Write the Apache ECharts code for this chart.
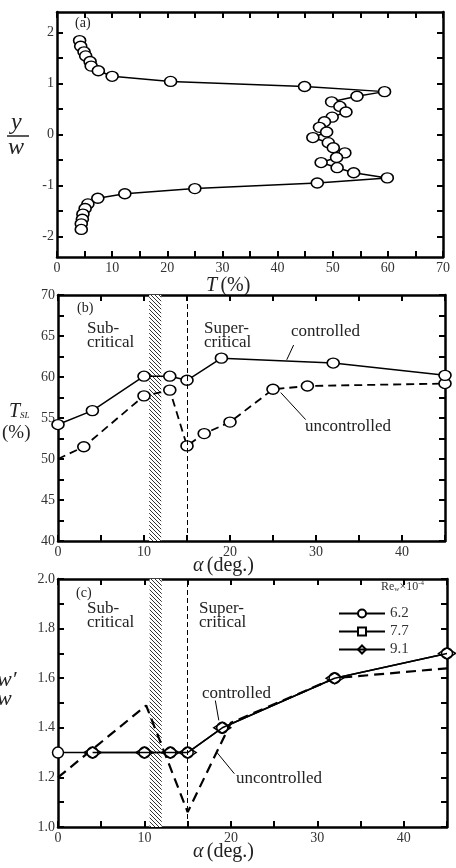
<!DOCTYPE html>
<html>
<head>
<meta charset="utf-8">
<script src="https://cdn.jsdelivr.net/npm/echarts@6/dist/echarts.min.js"></script>
<style>
  html, body { margin: 0; padding: 0; background: #fff; }
  #chart { width: 456px; height: 868px; }
</style>
</head>
<body>
<div id="chart"></div>
<script>
// (a) transmittance profile across the wake
const tProfile = [4.1, 4.3, 4.9, 5.2, 6.0, 6.2, 7.5, 10.0, 20.6, 44.9, 59.4, 54.4, 49.8, 51.3, 52.4, 49.9, 48.5, 47.6,
  48.9, 46.4, 49.2, 50.1, 52.2, 50.7, 47.9, 50.8, 53.8, 59.9, 47.2, 25.0, 12.3, 7.4, 5.6, 5.1, 4.7, 4.6, 4.4, 4.4];
const yProfile = [1.84, 1.73, 1.62, 1.54, 1.43, 1.34, 1.25, 1.14, 1.04, 0.94, 0.84, 0.75, 0.64, 0.55, 0.44, 0.34, 0.25, 0.14,
  0.05, -0.06, -0.16, -0.26, -0.36, -0.45, -0.55, -0.65, -0.75, -0.85, -0.95, -1.06, -1.16, -1.25, -1.36, -1.45, -1.56, -1.66, -1.75, -1.86];

// (b) T_SL vs alpha
const alphaCtrlB = [0, 4, 10, 13, 15, 19, 32, 45];
const tslCtrl = [54.2, 55.9, 60.1, 60.1, 59.6, 62.3, 61.7, 60.2];
const alphaUncB = [0, 3, 10, 13, 15, 17, 20, 25, 29, 45];
const tslUnc = [50.0, 51.5, 57.7, 58.4, 51.6, 53.1, 54.5, 58.5, 58.9, 59.2];

// (c) w'/w vs alpha
const alphaCircle = [0, 4, 10, 13, 15, 19, 32, 45];
const wCircle = [1.3, 1.3, 1.3, 1.3, 1.3, 1.4, 1.6, 1.7];
const alphaDiamond = [4, 10, 13, 15, 19, 32, 45];
const wDiamond = [1.3, 1.3, 1.3, 1.3, 1.4, 1.6, 1.7];
const alphaSquare = [];
const wSquare = [];
const alphaUncC = [0, 10.2, 15, 20, 32, 45];
const wUnc = [1.2, 1.49, 1.06, 1.42, 1.6, 1.64];
const reLegend = ['6.2', '7.7', '9.1'];

// ticks
const tTicks = [0, 5, 10, 15, 20, 25, 30, 35, 40, 45, 50, 55, 60, 65, 70];
const tLabels = [0, 10, 20, 30, 40, 50, 60, 70];
const yTicksA = [-2, -1.5, -1, -0.5, 0, 0.5, 1, 1.5, 2];
const yLabelsA = [-2, -1, 0, 1, 2];
const alphaTicks = [0, 5, 10, 15, 20, 25, 30, 35, 40, 45];
const alphaLabels = [0, 10, 20, 30, 40];
const tslTicks = [40, 42.5, 45, 47.5, 50, 52.5, 55, 57.5, 60, 62.5, 65, 67.5, 70];
const tslLabels = [40, 45, 50, 55, 60, 65, 70];
const wTicks = [1.0, 1.1, 1.2, 1.3, 1.4, 1.5, 1.6, 1.7, 1.8, 1.9, 2.0];
const wLabels = [1.0, 1.2, 1.4, 1.6, 1.8, 2.0];

const serif = 'Liberation Serif';
const zip = (xs, ys) => xs.map((x, i) => [x, ys[i]]);

// hatch pattern for the critical band
function hatch() {
  const c = document.createElement('canvas');
  c.width = 4; c.height = 4;
  const g = c.getContext('2d');
  g.fillStyle = '#fff';
  g.fillRect(0, 0, 4, 4);
  g.strokeStyle = '#333';
  g.lineWidth = 1;
  g.beginPath();
  g.moveTo(-1, -1); g.lineTo(5, 5);
  g.moveTo(-1, 3); g.lineTo(1, 5);
  g.moveTo(3, -1); g.lineTo(5, 1);
  g.stroke();
  return c;
}
const hatchImg = hatch();

function axis(grid, pos, min, max, ticks, labels, fmt) {
  return {
    type: 'value', gridIndex: grid, position: pos, min: min, max: max,
    axisLine: { show: true, onZero: false, lineStyle: { color: '#000', width: 2.5 } },
    axisTick: { show: true, inside: true, length: 6, customValues: ticks, lineStyle: { color: '#000', width: 2 } },
    axisLabel: {
      show: pos === 'bottom' || pos === 'left', customValues: labels,
      color: '#333', fontFamily: serif, fontSize: 14, margin: pos === 'left' ? 3 : 4,
      formatter: fmt || (v => String(v))
    },
    splitLine: { show: false }
  };
}

const grids = [
  { left: 57, top: 12, width: 386, height: 245 },
  { left: 58, top: 295, width: 387, height: 246 },
  { left: 58, top: 579, width: 389, height: 248 }
];

const xAxes = [
  axis(0, 'bottom', 0, 70, tTicks, tLabels),
  axis(0, 'top', 0, 70, tTicks, tLabels),
  axis(1, 'bottom', 0, 45, alphaTicks, alphaLabels),
  axis(1, 'top', 0, 45, alphaTicks, alphaLabels),
  axis(2, 'bottom', 0, 45, alphaTicks, alphaLabels),
  axis(2, 'top', 0, 45, alphaTicks, alphaLabels)
];
const yAxes = [
  axis(0, 'left', -2.4, 2.4, yTicksA, yLabelsA),
  axis(0, 'right', -2.4, 2.4, yTicksA, yLabelsA),
  axis(1, 'left', 40, 70, tslTicks, tslLabels),
  axis(1, 'right', 40, 70, tslTicks, tslLabels),
  axis(2, 'left', 1.0, 2.0, wTicks, wLabels, v => v.toFixed(1)),
  axis(2, 'right', 1.0, 2.0, wTicks, wLabels, v => v.toFixed(1))
];

const markerStyle = { color: '#fff', borderColor: '#000', borderWidth: 1.5 };
const solid = { color: '#000', width: 1.5, type: 'solid' };
const dashedB = { color: '#000', width: 1.8, type: [8, 5] };
const dashedC = { color: '#000', width: 2.2, type: [10, 6] };
const leader = { color: '#000', width: 1, type: 'solid' };

const band = {
  silent: true,
  itemStyle: { color: { image: hatchImg, repeat: 'repeat' } },
  data: [[{ xAxis: 10.6 }, { xAxis: 12.0 }]]
};
function critLine(leaders) {
  return {
    silent: true, symbol: 'none', label: { show: false },
    lineStyle: { color: '#000', width: 1, type: [5, 3] },
    data: [{ xAxis: 15 }].concat(leaders.map(l => [
      { coord: l[0], lineStyle: leader }, { coord: l[1] }
    ]))
  };
}

const series = [
  {
    type: 'line', xAxisIndex: 0, yAxisIndex: 0, data: zip(tProfile, yProfile),
    symbol: 'circle', symbolSize: [12, 10], itemStyle: markerStyle, lineStyle: solid, z: 3
  },
  {
    type: 'line', xAxisIndex: 2, yAxisIndex: 2, data: zip(alphaUncB, tslUnc).map((p, i) => i === 0 ? { value: p, symbol: 'none' } : p),
    symbol: 'circle', symbolSize: [12, 10], itemStyle: markerStyle, lineStyle: dashedB, z: 3,
    markArea: band,
    markLine: critLine([[[25.9, 58.1], [28.8, 54.8]], [[26.6, 62.1], [27.4, 63.9]]])
  },
  {
    type: 'line', xAxisIndex: 2, yAxisIndex: 2, data: zip(alphaCtrlB, tslCtrl),
    symbol: 'circle', symbolSize: [12, 10], itemStyle: markerStyle, lineStyle: solid, z: 4
  },
  {
    type: 'line', xAxisIndex: 4, yAxisIndex: 4, data: zip(alphaUncC, wUnc),
    symbol: 'none', lineStyle: dashedC, z: 3,
    markArea: band,
    markLine: critLine([[[18.2, 1.51], [18.6, 1.43]], [[18.4, 1.30], [20.4, 1.215]]])
  },
  {
    name: reLegend[0], type: 'line', xAxisIndex: 4, yAxisIndex: 4, data: zip(alphaCircle, wCircle),
    symbol: 'circle', symbolSize: [11, 11], itemStyle: markerStyle, lineStyle: solid, z: 4
  },
  {
    name: reLegend[1], type: 'line', xAxisIndex: 4, yAxisIndex: 4, data: zip(alphaSquare, wSquare),
    symbol: 'rect', symbolSize: 9, itemStyle: markerStyle, lineStyle: solid, z: 4
  },
  {
    name: reLegend[2], type: 'line', xAxisIndex: 4, yAxisIndex: 4, data: zip(alphaDiamond, wDiamond),
    symbol: 'diamond', symbolSize: [17, 11], itemStyle: { color: 'rgba(255,255,255,0)', borderColor: '#000', borderWidth: 1.5 },
    lineStyle: solid, z: 5
  }
];

function txt(x, y, text, size, extra) {
  return {
    type: 'text', left: x, top: y, silent: true,
    style: Object.assign({ text: text, font: size + 'px "' + serif + '"', fill: '#222' }, extra || {})
  };
}
const italic = s => 'italic ' + s + 'px "' + serif + '"';
const rich = {
  i: { fontFamily: serif, fontStyle: 'italic', fontSize: 20, fill: '#222' },
  n: { fontFamily: serif, fontSize: 20, fill: '#222' },
  s: { fontFamily: serif, fontStyle: 'italic', fontSize: 9, fill: '#222', padding: [8, 0, 0, 0] }
};

const graphic = [
  // panel (a)
  txt(75, 16, '(a)', 14),
  { type: 'text', left: 11, top: 111, silent: true, style: { text: 'y', font: italic(24), fill: '#222' } },
  { type: 'line', silent: true, shape: { x1: 7, y1: 136, x2: 29, y2: 136 }, style: { stroke: '#222', lineWidth: 1.5 } },
  { type: 'text', left: 8, top: 136, silent: true, style: { text: 'w', font: italic(24), fill: '#222' } },
  { type: 'text', left: 206, top: 276, silent: true, style: { text: '{i|T} {n|(%)}', rich: rich } },

  // panel (b)
  txt(77, 301, '(b)', 14),
  txt(87, 320, 'Sub-\ncritical', 17, { lineHeight: 14 }),
  txt(204, 320, 'Super-\ncritical', 17, { lineHeight: 14 }),
  txt(291, 323, 'controlled', 17),
  txt(305, 418, 'uncontrolled', 17),
  { type: 'text', left: 9, top: 402, silent: true, style: { text: '{i|T}{s|SL}', rich: rich } },
  txt(2, 424, '(%)', 19),
  { type: 'text', left: 193, top: 556, silent: true, style: { text: '{i|α} {n|(deg.)}', rich: rich } },

  // panel (c)
  txt(76, 586, '(c)', 14),
  txt(87, 600, 'Sub-\ncritical', 17, { lineHeight: 14 }),
  txt(199, 600, 'Super-\ncritical', 17, { lineHeight: 14 }),
  txt(202, 685, 'controlled', 17),
  txt(236, 770, 'uncontrolled', 17),
  { type: 'text', left: -3, top: 669, silent: true, style: { text: 'w′', font: italic(22), fill: '#222' } },
  { type: 'text', left: -3, top: 688, silent: true, style: { text: 'w', font: italic(22), fill: '#222' } },
  { type: 'text', left: 193, top: 842, silent: true, style: { text: '{i|α} {n|(deg.)}', rich: rich } },
  {
    type: 'text', left: 381, top: 580, silent: true,
    style: {
      text: '{a|Re}{b|w}{a|×10}{c|-4}',
      rich: {
        a: { fontFamily: serif, fontSize: 12, fill: '#333' },
        b: { fontFamily: serif, fontSize: 7, fill: '#333', padding: [5, 0, 0, 0] },
        c: { fontFamily: serif, fontSize: 7, fill: '#333', padding: [0, 0, 6, 0] }
      }
    }
  }
];

const chart = echarts.init(document.getElementById('chart'), null, { renderer: 'canvas' });
chart.setOption({
  backgroundColor: '#fff',
  animation: false,
  grid: grids,
  xAxis: xAxes,
  yAxis: yAxes,
  legend: {
    data: reLegend, orient: 'vertical', left: 333, top: 601,
    itemWidth: 46, itemHeight: 10, itemGap: 3, selectedMode: false,
    textStyle: { fontFamily: serif, fontSize: 15, color: '#333' }
  },
  series: series,
  graphic: graphic
});
</script>
</body>
</html>
